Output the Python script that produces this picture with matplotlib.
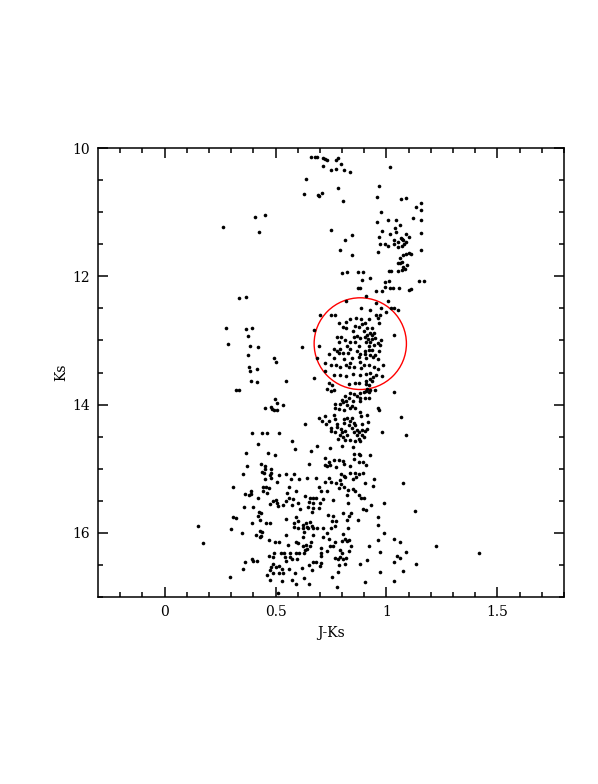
import numpy as np
import matplotlib
matplotlib.use("Agg")
import matplotlib.pyplot as plt
from matplotlib.patches import Ellipse

# (J-Ks, Ks), grouped by region of the CMD
upper_branch = [
    (0.638, 10.48), (0.630, 10.71), (0.451, 11.05), (0.409, 11.08), (0.261, 11.23), (0.427, 11.31),
    (0.661, 10.14), (0.679, 10.14), (0.689, 10.14), (0.712, 10.15), (0.721, 10.17), (0.730, 10.19),
    (0.780, 10.15), (0.772, 10.19), (0.712, 10.28), (0.795, 10.25), (0.771, 10.32), (0.748, 10.35),
    (0.810, 10.34), (0.834, 10.37), (1.015, 10.30), (0.694, 10.75), (0.691, 10.73), (0.710, 10.70),
    (0.780, 10.63), (0.802, 10.83), (0.968, 10.59), (0.959, 10.77), (1.067, 10.79), (1.086, 10.78),
    (1.154, 10.86), (1.134, 10.92), (1.157, 10.97), (0.974, 10.99), (1.119, 11.09), (1.157, 11.12),
    (0.956, 11.15), (1.006, 11.12), (1.042, 11.12), (1.063, 11.20), (1.039, 11.25), (0.750, 11.28),
    (0.981, 11.30), (1.015, 11.34), (1.042, 11.31), (1.067, 11.40), (1.087, 11.34), (1.101, 11.38),
    (1.154, 11.32), (0.843, 11.35), (0.967, 11.39), (0.813, 11.43), (1.035, 11.44), (1.051, 11.46),
    (1.069, 11.42), (1.076, 11.43), (1.089, 11.46), (0.970, 11.50), (0.995, 11.50), (1.006, 11.52),
    (1.033, 11.50), (1.050, 11.54), (1.071, 11.52), (1.080, 11.50), (1.154, 11.59), (0.792, 11.59),
    (0.843, 11.67), (0.961, 11.62), (1.059, 11.71), (1.074, 11.67), (1.090, 11.66), (1.101, 11.64),
    (1.110, 11.65),
]

rgb_clump = [
    (1.070, 11.77), (1.053, 11.79), (1.063, 11.80), (1.074, 11.85), (1.094, 11.83), (1.051, 11.91),
    (1.068, 11.90), (1.083, 11.88), (1.010, 11.91), (1.021, 11.91), (0.801, 11.95), (0.824, 11.93),
    (0.873, 11.93), (0.896, 11.93), (0.890, 12.05), (0.928, 12.02), (0.994, 12.09), (1.010, 12.08),
    (1.148, 12.08), (1.169, 12.07), (0.870, 12.18), (0.882, 12.18), (0.955, 12.23), (0.981, 12.23),
    (0.992, 12.17), (1.018, 12.18), (1.029, 12.18), (1.057, 12.19), (1.101, 12.21), (1.110, 12.20),
    (0.906, 12.30), (0.818, 12.39), (1.008, 12.38), (0.955, 12.42), (0.887, 12.50), (0.924, 12.52),
    (0.974, 12.50), (1.021, 12.50), (1.036, 12.50), (1.053, 12.52), (0.997, 12.56), (0.769, 12.60),
    (0.751, 12.61), (0.701, 12.61), (0.955, 12.61), (0.970, 12.60), (0.961, 12.65), (0.837, 12.67),
    (0.861, 12.65), (0.886, 12.67), (0.923, 12.66), (0.787, 12.73), (0.818, 12.71), (0.858, 12.77),
    (0.890, 12.74), (0.905, 12.73), (0.968, 12.73), (0.805, 12.79), (0.819, 12.81), (0.876, 12.79),
    (0.913, 12.80), (0.935, 12.80), (0.674, 12.84), (0.849, 12.86), (0.897, 12.86), (0.928, 12.88),
    (0.943, 12.88), (0.913, 12.91), (0.777, 12.94), (0.793, 12.94), (0.852, 12.94), (0.867, 12.93),
    (0.905, 12.94), (0.935, 12.92), (1.035, 12.92), (0.811, 13.00), (0.882, 12.96), (0.915, 12.97),
    (0.937, 12.98), (0.950, 12.96), (0.977, 13.00), (0.784, 13.02), (0.837, 13.03), (0.860, 13.03),
    (0.906, 13.03), (0.928, 13.02), (0.961, 13.04), (0.822, 13.08), (0.876, 13.08), (0.920, 13.08),
    (0.943, 13.07), (0.973, 13.07), (0.697, 13.09), (0.762, 13.13), (0.777, 13.16), (0.792, 13.14),
    (0.837, 13.14), (0.867, 13.16), (0.902, 13.16), (0.920, 13.15), (0.935, 13.15), (0.965, 13.16),
    (0.743, 13.21), (0.784, 13.20), (0.804, 13.19), (0.827, 13.20), (0.879, 13.21), (0.902, 13.21),
    (0.928, 13.22), (0.950, 13.22), (0.689, 13.27), (0.762, 13.27), (0.810, 13.29), (0.845, 13.28),
    (0.875, 13.26), (0.910, 13.27), (0.941, 13.26), (0.961, 13.29), (0.723, 13.35), (0.772, 13.39),
    (0.792, 13.41), (0.818, 13.38), (0.837, 13.35), (0.852, 13.41), (0.882, 13.33), (0.897, 13.38),
    (0.922, 13.39), (0.985, 13.38), (0.751, 13.39), (0.829, 13.41), (0.886, 13.43), (0.943, 13.42),
    (0.964, 13.44),
]

lower_rgb = [
    (0.724, 13.48), (0.763, 13.54), (0.792, 13.54), (0.816, 13.55), (0.849, 13.52), (0.879, 13.54),
    (0.910, 13.52), (0.924, 13.50), (0.940, 13.57), (0.952, 13.54), (0.981, 13.56), (0.674, 13.59),
    (0.831, 13.68), (0.860, 13.67), (0.878, 13.66), (0.910, 13.63), (0.928, 13.60), (0.935, 13.64),
    (0.910, 13.68), (0.920, 13.70), (0.913, 13.75), (0.924, 13.77), (0.906, 13.79), (0.741, 13.67),
    (0.754, 13.70), (0.734, 13.75), (0.950, 13.77), (1.032, 13.80), (0.751, 13.79), (0.762, 13.78),
    (0.834, 13.82), (0.852, 13.84), (0.882, 13.82), (0.897, 13.81), (0.920, 13.81), (0.814, 13.87),
    (0.829, 13.90), (0.867, 13.87), (0.882, 13.90), (0.902, 13.90), (0.920, 13.90), (0.800, 13.93),
    (0.819, 13.95), (0.804, 13.96), (0.848, 13.94), (0.882, 13.94), (0.769, 13.99), (0.792, 13.99),
    (0.822, 14.00), (0.845, 14.02), (0.769, 14.06), (0.784, 14.07), (0.837, 14.06), (0.860, 14.05),
    (0.807, 14.09), (0.961, 14.06), (0.967, 14.09), (0.879, 14.11), (0.913, 14.17), (0.887, 14.18),
    (0.694, 14.21), (0.724, 14.18), (0.709, 14.25), (0.743, 14.25), (0.762, 14.17), (0.766, 14.23),
    (0.810, 14.23), (0.822, 14.21), (0.834, 14.25), (0.845, 14.21), (0.852, 14.28), (0.729, 14.30),
    (0.777, 14.30), (0.807, 14.29), (0.829, 14.32), (0.860, 14.32), (0.890, 14.30), (0.917, 14.27),
    (1.067, 14.20), (0.750, 14.37), (0.777, 14.35), (0.795, 14.38), (0.845, 14.37), (0.867, 14.39),
    (0.890, 14.39), (0.913, 14.38), (0.751, 14.41), (0.769, 14.43), (0.800, 14.43), (0.814, 14.41),
    (0.852, 14.43), (0.875, 14.42), (0.905, 14.41), (0.981, 14.43), (1.087, 14.47), (0.789, 14.48),
    (0.822, 14.48), (0.867, 14.47), (0.890, 14.48), (0.781, 14.53), (0.804, 14.51), (0.834, 14.55),
    (0.878, 14.53), (0.897, 14.50), (0.814, 14.55), (0.860, 14.56), (0.882, 14.56), (0.686, 14.65),
    (0.747, 14.67), (0.800, 14.65), (0.849, 14.66), (0.662, 14.72), (0.855, 14.77), (0.876, 14.77),
    (0.882, 14.79), (0.924, 14.79), (0.721, 14.84), (0.762, 14.86), (0.784, 14.86), (0.804, 14.88),
    (0.852, 14.85), (0.739, 14.90), (0.807, 14.93), (0.875, 14.90), (0.895, 14.90), (0.724, 14.94),
    (0.732, 14.96), (0.747, 14.94), (0.774, 14.98), (0.834, 14.95), (0.910, 14.94), (0.837, 15.06),
    (0.857, 15.07), (0.875, 15.08), (0.895, 15.06), (0.795, 15.08), (0.807, 15.11), (0.683, 15.15),
    (0.848, 15.16), (0.943, 15.16), (0.743, 15.14),
]

blue_seq = [
    (0.335, 12.34), (0.368, 12.33), (0.277, 12.81), (0.368, 12.82), (0.395, 12.80), (0.377, 12.93),
    (0.286, 13.05), (0.385, 13.09), (0.422, 13.10), (0.621, 13.10), (0.374, 13.22), (0.495, 13.27),
    (0.502, 13.34), (0.380, 13.41), (0.415, 13.45), (0.386, 13.47), (0.389, 13.64), (0.415, 13.65),
    (0.548, 13.64), (0.323, 13.77), (0.335, 13.77), (0.496, 13.91), (0.508, 13.98), (0.533, 14.01),
    (0.454, 14.06), (0.478, 14.04), (0.486, 14.07), (0.495, 14.08), (0.505, 14.09), (0.635, 14.30),
    (0.394, 14.44), (0.438, 14.45), (0.463, 14.44), (0.517, 14.45), (0.576, 14.56), (0.421, 14.61),
    (0.588, 14.69), (0.368, 14.75), (0.466, 14.75), (0.498, 14.79), (0.652, 14.92), (0.436, 14.92),
    (0.451, 14.95), (0.370, 14.96), (0.481, 15.00), (0.454, 15.00), (0.439, 15.05), (0.448, 15.07),
    (0.478, 15.06), (0.476, 15.09), (0.352, 15.08), (0.517, 15.09), (0.549, 15.08), (0.585, 15.08),
    (0.451, 15.16), (0.570, 15.16), (0.608, 15.16), (0.644, 15.15),
]

faint_blue = [
    (0.480, 15.15), (0.505, 15.20), (0.306, 15.28), (0.445, 15.28), (0.457, 15.29), (0.469, 15.30),
    (0.560, 15.29), (0.388, 15.34), (0.442, 15.35), (0.463, 15.38), (0.361, 15.40), (0.381, 15.41),
    (0.389, 15.40), (0.553, 15.38), (0.590, 15.34), (0.633, 15.42), (0.419, 15.46), (0.561, 15.45),
    (0.548, 15.50), (0.578, 15.47), (0.487, 15.50), (0.502, 15.49), (0.508, 15.53), (0.475, 15.55),
    (0.513, 15.58), (0.533, 15.57), (0.576, 15.56), (0.600, 15.54), (0.357, 15.60), (0.400, 15.59),
    (0.611, 15.63), (0.648, 15.60), (0.427, 15.67), (0.436, 15.69), (0.419, 15.73), (0.309, 15.76),
    (0.321, 15.77), (0.546, 15.79), (0.590, 15.75), (0.603, 15.81), (0.430, 15.80), (0.456, 15.84),
    (0.475, 15.84), (0.395, 15.85), (0.584, 15.84), (0.638, 15.84), (0.151, 15.89), (0.300, 15.94),
    (0.585, 15.91), (0.603, 15.93), (0.626, 15.92), (0.644, 15.91), (0.430, 15.97), (0.440, 15.98),
    (0.350, 16.00), (0.412, 16.04), (0.433, 16.05), (0.430, 16.07), (0.548, 16.04), (0.623, 16.07),
    (0.472, 16.11), (0.499, 16.15), (0.516, 16.15), (0.173, 16.16), (0.593, 16.15), (0.602, 16.16),
    (0.558, 16.19), (0.623, 16.20), (0.638, 16.19), (0.644, 16.25), (0.633, 16.27), (0.524, 16.32),
    (0.538, 16.31), (0.567, 16.31), (0.591, 16.32), (0.605, 16.31), (0.495, 16.32), (0.472, 16.36),
    (0.543, 16.38), (0.487, 16.38), (0.566, 16.38), (0.596, 16.40), (0.394, 16.40), (0.415, 16.44),
    (0.363, 16.45), (0.400, 16.44), (0.548, 16.44), (0.576, 16.41), (0.490, 16.49), (0.502, 16.53),
    (0.517, 16.52), (0.478, 16.53), (0.354, 16.56), (0.475, 16.58), (0.531, 16.57), (0.619, 16.54),
    (0.560, 16.57), (0.517, 16.63), (0.533, 16.62), (0.460, 16.66), (0.490, 16.62), (0.588, 16.62),
    (0.294, 16.69), (0.475, 16.74), (0.528, 16.75), (0.573, 16.74), (0.593, 16.80), (0.652, 16.79),
    (0.513, 16.94),
]

faint_red = [
    (0.724, 15.20), (0.750, 15.20), (0.772, 15.22), (0.792, 15.17), (0.811, 15.13), (0.864, 15.13),
    (0.905, 15.23), (0.938, 15.27), (1.076, 15.22), (0.795, 15.24), (0.698, 15.29), (0.705, 15.34),
    (0.732, 15.35), (0.784, 15.30), (0.807, 15.29), (0.827, 15.33), (0.849, 15.32), (0.860, 15.35),
    (0.822, 15.41), (0.875, 15.41), (0.656, 15.46), (0.667, 15.45), (0.683, 15.46), (0.712, 15.47),
    (0.759, 15.49), (0.887, 15.45), (0.897, 15.46), (0.653, 15.52), (0.667, 15.53), (0.701, 15.54),
    (0.825, 15.54), (0.932, 15.57), (0.988, 15.54), (0.668, 15.62), (0.698, 15.61), (0.895, 15.63),
    (0.908, 15.64), (1.127, 15.66), (0.664, 15.68), (0.736, 15.72), (0.757, 15.73), (0.802, 15.69),
    (0.840, 15.69), (0.829, 15.73), (0.961, 15.75), (0.754, 15.81), (0.774, 15.81), (0.822, 15.80),
    (0.870, 15.80), (0.656, 15.83), (0.623, 15.88), (0.664, 15.89), (0.961, 15.88), (0.648, 15.93),
    (0.668, 15.92), (0.686, 15.92), (0.714, 15.92), (0.750, 15.92), (0.766, 15.89), (0.825, 15.92),
    (0.629, 15.98), (0.671, 16.04), (0.732, 16.00), (0.804, 16.02), (0.988, 16.00), (0.714, 16.07),
    (0.739, 16.10), (0.814, 16.10), (0.822, 16.12), (0.831, 16.11), (0.800, 16.13), (0.962, 16.11),
    (1.033, 16.10), (0.661, 16.14), (0.766, 16.15), (1.063, 16.15), (0.656, 16.20), (0.747, 16.21),
    (0.759, 16.20), (0.840, 16.21), (0.920, 16.21), (0.705, 16.23), (0.732, 16.28), (0.789, 16.27),
    (0.829, 16.28), (0.970, 16.30), (1.090, 16.30), (0.630, 16.32), (0.706, 16.32), (0.800, 16.31),
    (0.706, 16.36), (0.766, 16.39), (0.789, 16.38), (0.818, 16.39), (1.048, 16.36), (1.063, 16.39),
    (0.671, 16.46), (0.682, 16.45), (0.705, 16.47), (0.781, 16.41), (0.804, 16.40), (0.913, 16.43),
    (1.033, 16.46), (1.131, 16.48), (0.653, 16.50), (0.701, 16.52), (0.784, 16.50), (0.814, 16.48),
    (0.879, 16.48), (0.665, 16.58), (0.780, 16.61), (0.970, 16.61), (1.076, 16.59), (0.756, 16.69),
    (0.630, 16.71), (0.902, 16.76), (1.033, 16.75), (0.777, 16.85), (1.222, 16.20), (1.418, 16.31),
]

# selection circle around the red clump
circ_center = (0.882, 13.05)
circ_w, circ_h = 0.416, 1.43

stars = np.array(upper_branch + rgb_clump + lower_rgb + blue_seq + faint_blue + faint_red)
jk, ks = stars[:, 0], stars[:, 1]

plt.rcParams['font.family'] = ['DejaVu Serif']

fig = plt.figure(figsize=(5.98, 7.84), dpi=100)
ax = fig.add_axes([0.164, 0.2385, 0.779, 0.5727])

ax.plot(jk, ks, 'o', color='black', ms=2.6, mew=0)
ax.add_patch(Ellipse(circ_center, circ_w, circ_h, fill=False, ec='red', lw=1.0))

ax.set_xlim(-0.3, 1.8)
ax.set_ylim(17, 10)
ax.set_xticks([0, 0.5, 1, 1.5])
ax.set_xticklabels(['0', '0.5', '1', '1.5'])
ax.set_xticks(np.arange(-0.2, 1.81, 0.1), minor=True)
ax.set_yticks([10, 12, 14, 16])
ax.set_yticks(np.arange(10, 17.01, 0.5), minor=True)

ax.tick_params(which='both', direction='in', top=True, right=True, width=1.1, labelsize=10, pad=6)
ax.tick_params(which='major', length=7)
ax.tick_params(which='minor', length=3.5)
for s in ax.spines.values():
    s.set_linewidth(1.1)

ax.set_xlabel('J-Ks', fontsize=10, labelpad=5)
ax.set_ylabel('Ks', fontsize=10, labelpad=3)

fig.savefig('out.png', dpi=100)
